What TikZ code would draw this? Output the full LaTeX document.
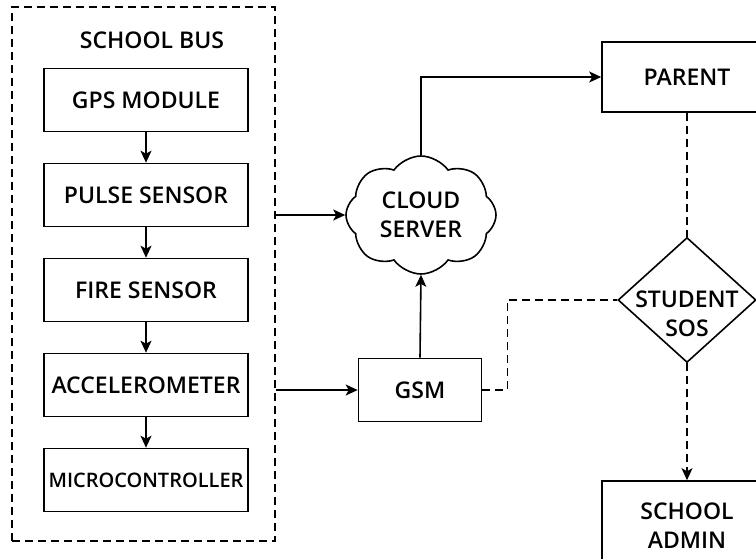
\documentclass[tikz,border=0pt]{standalone}
\usepackage{fontspec}
\setmainfont{Open Sans}[BoldFont={Open Sans Semibold}]
\usetikzlibrary{shapes.geometric,shapes.symbols,arrows.meta}
\begin{document}
\begin{tikzpicture}[x=1pt,y=-1pt,
  lbl/.style={font=\fontsize{23}{29}\selectfont\bfseries, align=center},
  box/.style={draw, line width=1.6pt, minimum width=204pt, minimum height=63pt, inner sep=0pt, lbl},
  arr/.style={line width=1.6pt, -{Stealth[length=12pt,width=11pt,inset=3pt]}},
  dsh/.style={line width=1.6pt, dash pattern=on 8pt off 5pt},
]
\clip (0,0) rectangle (756,558);
\fill[white] (0,0) rectangle (756,558);
% school bus frame
\node[draw, line width=1.4pt, dash pattern=on 8pt off 5pt, minimum width=263pt, minimum height=534pt, inner sep=0pt] (bus) at (143.5,274) {};
\node[lbl] (title) at (152,40) {SCHOOL BUS};
\node[box] (gps) at (146,100) {GPS MODULE};
\node[box] (pulse) at (146,195) {PULSE SENSOR};
\node[box] (fire) at (146,290) {FIRE SENSOR};
\node[box] (acc) at (146,385) {ACCELEROMETER};
\node[box, font=\fontsize{20}{24}\selectfont\bfseries] (mcu) at (146,480) {MICROCONTROLLER};
\draw[arr] (gps) -- (pulse);
\draw[arr] (pulse) -- (fire);
\draw[arr] (fire) -- (acc);
\draw[arr] (acc) -- (mcu);
% cloud and gsm
\node[cloud, draw, line width=1.6pt, cloud puffs=8, cloud puff arc=110, aspect=1.3, minimum width=150pt, minimum height=118pt, inner sep=0pt, lbl] (cloud) at (421,215) {CLOUD\\SERVER};
\node[draw, line width=1.6pt, minimum width=123pt, minimum height=63pt, inner sep=0pt, lbl] (gsm) at (420,390) {GSM};
\draw[arr] (bus.east |- cloud.west) -- (cloud.west);
\draw[arr] (bus.east |- gsm.west) -- (gsm.west);
\draw[arr] (gsm.north) -- (cloud.south);
% right column
\node[draw, line width=1.6pt, minimum width=170pt, minimum height=70pt, inner sep=0pt, lbl] (parent) at (687,77) {PARENT};
\node[diamond, draw, line width=1.6pt, minimum width=138pt, minimum height=125pt, inner sep=0pt] (sos) at (687,300) {};
\node[lbl] (sostext) at (687,314) {STUDENT\\SOS};
\node[draw, line width=1.6pt, minimum width=170pt, minimum height=89pt, inner sep=0pt, lbl] (admin) at (687,525.5) {SCHOOL\\ADMIN};
\draw[arr] (cloud.north) |- (parent.west);
\draw[dsh] (parent.south) -- (sos.north);
\draw[dsh] (gsm.east) -- ++(25,0) |- (sos.west);
\draw[dsh, -{Stealth[length=12pt,width=11pt,inset=3pt]}] (sos.south) -- (admin.north);
\end{tikzpicture}
\end{document}
